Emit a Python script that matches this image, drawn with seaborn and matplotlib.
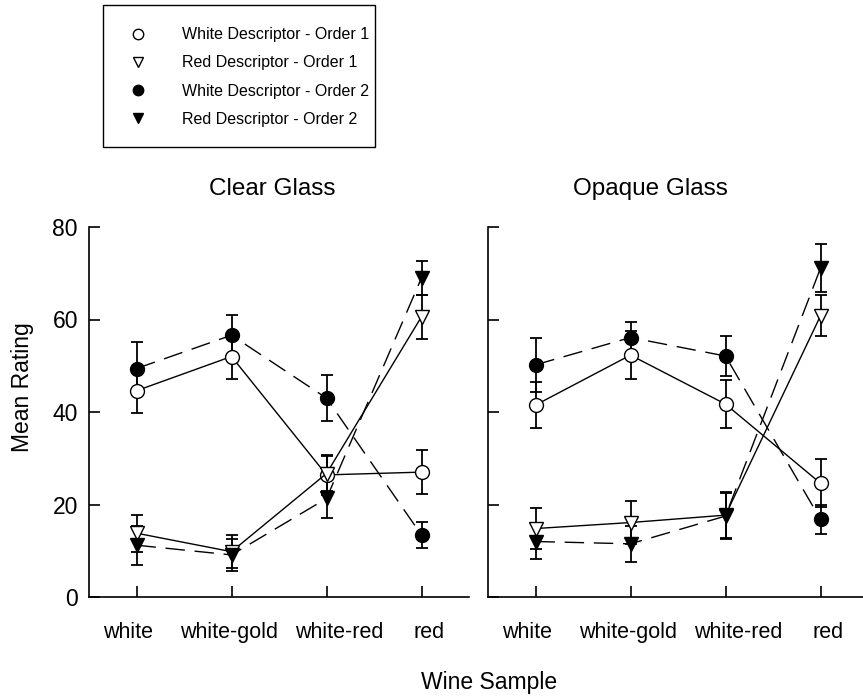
import numpy as np
import pandas as pd
import matplotlib
matplotlib.use("Agg")
import matplotlib.pyplot as plt
import matplotlib.transforms as mtransforms
from matplotlib.patches import Rectangle
import seaborn as sns
from matplotlib.lines import Line2D

sns.set_theme(style="ticks")
plt.rcParams['font.family'] = ['Liberation Sans', 'DejaVu Sans']
plt.rcParams['text.color'] = 'black'
plt.rcParams['axes.labelcolor'] = 'black'

samples = ["white", "white-gold", "white-red", "red"]
panels = ["Clear Glass", "Opaque Glass"]
series = ["White Descriptor - Order 1", "Red Descriptor - Order 1",
          "White Descriptor - Order 2", "Red Descriptor - Order 2"]

# Clear glass means and error (half-width)
clear_white_o1 = [44.6, 52.0, 26.4, 27.0]
clear_white_o1_err = [4.9, 4.9, 4.3, 4.7]
clear_red_o1 = [13.8, 9.8, 26.7, 60.6]
clear_red_o1_err = [4.0, 3.5, 3.8, 4.8]
clear_white_o2 = [49.4, 56.6, 43.0, 13.4]
clear_white_o2_err = [5.8, 4.4, 5.0, 2.9]
clear_red_o2 = [11.2, 9.1, 21.3, 69.0]
clear_red_o2_err = [4.2, 3.5, 4.3, 3.7]

# Opaque glass means and error
opaque_white_o1 = [41.5, 52.3, 41.7, 24.6]
opaque_white_o1_err = [5.0, 5.2, 5.2, 5.2]
opaque_red_o1 = [14.8, 16.1, 17.7, 60.8]
opaque_red_o1_err = [4.4, 4.7, 5.0, 4.4]
opaque_white_o2 = [50.2, 56.1, 52.1, 16.8]
opaque_white_o2_err = [5.8, 3.3, 4.3, 3.2]
opaque_red_o2 = [12.0, 11.5, 17.5, 71.1]
opaque_red_o2_err = [3.8, 3.9, 5.0, 5.2]

data = {
    "Clear Glass": [(clear_white_o1, clear_white_o1_err), (clear_red_o1, clear_red_o1_err),
                    (clear_white_o2, clear_white_o2_err), (clear_red_o2, clear_red_o2_err)],
    "Opaque Glass": [(opaque_white_o1, opaque_white_o1_err), (opaque_red_o1, opaque_red_o1_err),
                     (opaque_white_o2, opaque_white_o2_err), (opaque_red_o2, opaque_red_o2_err)],
}

styles = [
    dict(marker="o", mfc="white", ls="-"),
    dict(marker="v", mfc="white", ls="-"),
    dict(marker="o", mfc="black", ls=(0, (14, 7))),
    dict(marker="v", mfc="black", ls=(0, (14, 7))),
]

fig = plt.figure(figsize=(8.63, 6.98), dpi=100)
W, H = 863, 698
ax_bottom = 1 - 597 / H
ax_height = (597 - 227) / H
axes = [fig.add_axes([89 / W, ax_bottom, 380 / W, ax_height]),
        fig.add_axes([488 / W, ax_bottom, 380 / W, ax_height])]

# horizontal label nudges (pixels) to keep neighbouring labels apart
label_shift = [-8, -2, 13, 8]

x = np.arange(len(samples))
for ax, panel in zip(axes, panels):
    for name, (vals, errs), st in zip(series, data[panel], styles):
        df = pd.DataFrame({"x": x, "y": vals})
        ax.errorbar(x, vals, yerr=errs, fmt="none", ecolor="black",
                    elinewidth=1.3, capsize=4.3, capthick=1.3, zorder=2)
        sns.lineplot(data=df, x="x", y="y", ax=ax, color="black", lw=1.0,
                     linestyle=st["ls"], marker=st["marker"], markersize=10,
                     markerfacecolor=st["mfc"], markeredgecolor="black",
                     markeredgewidth=1.0, errorbar=None, zorder=3)
    ax.set_xlim(-0.5, 3.5)
    ax.set_ylim(0, 80)
    ax.set_yticks([0, 20, 40, 60, 80])
    ax.set_xticks(x)
    ax.set_xticklabels(samples)
    ax.tick_params(direction="in", length=8, width=1.2, colors="black",
                   labelcolor="black")
    ax.tick_params(axis="y", pad=8, labelsize=16.5)
    ax.tick_params(axis="x", pad=18, labelsize=15.5)
    for lab, dx in zip(ax.get_xticklabels(), label_shift):
        lab.set_transform(lab.get_transform() +
                          mtransforms.ScaledTranslation(dx / 100, 0, fig.dpi_scale_trans))
    ax.set_xlabel("")
    ax.set_ylabel("")
    sns.despine(ax=ax)
    for s in ["left", "bottom"]:
        ax.spines[s].set_linewidth(1.2)
        ax.spines[s].set_color("black")

axes[1].set_yticklabels([])
fig.text(272 / W, 1 - 189 / H, panels[0], ha="center", va="center", fontsize=17.5)
fig.text(650 / W, 1 - 189 / H, panels[1], ha="center", va="center", fontsize=17.5)
fig.text(22 / W, 1 - 387 / H, "Mean Rating", ha="center", va="center",
         rotation=90, fontsize=16.5)
fig.text(489 / W, 1 - 683 / H, "Wine Sample", ha="center", va="center", fontsize=16.5)

handles = []
for name, st in zip(series, styles):
    handles.append(Line2D([], [], color="black", linestyle="none", marker=st["marker"],
                          markersize=7.5, markerfacecolor=st["mfc"], markeredgecolor="black"))
leg = fig.legend(handles, series, loc="upper left", bbox_to_anchor=(103 / W, 1 - 8 / H),
                 frameon=False, fontsize=11.5, handlelength=2.0, handletextpad=1.75,
                 borderpad=1.2, labelspacing=0.83, borderaxespad=0)
fig.patches.append(Rectangle((103 / W, 1 - 147 / H), (375 - 103) / W, (147 - 5) / H,
                             transform=fig.transFigure, fill=False,
                             edgecolor="black", linewidth=1.0))

fig.savefig("out.png", dpi=100)
